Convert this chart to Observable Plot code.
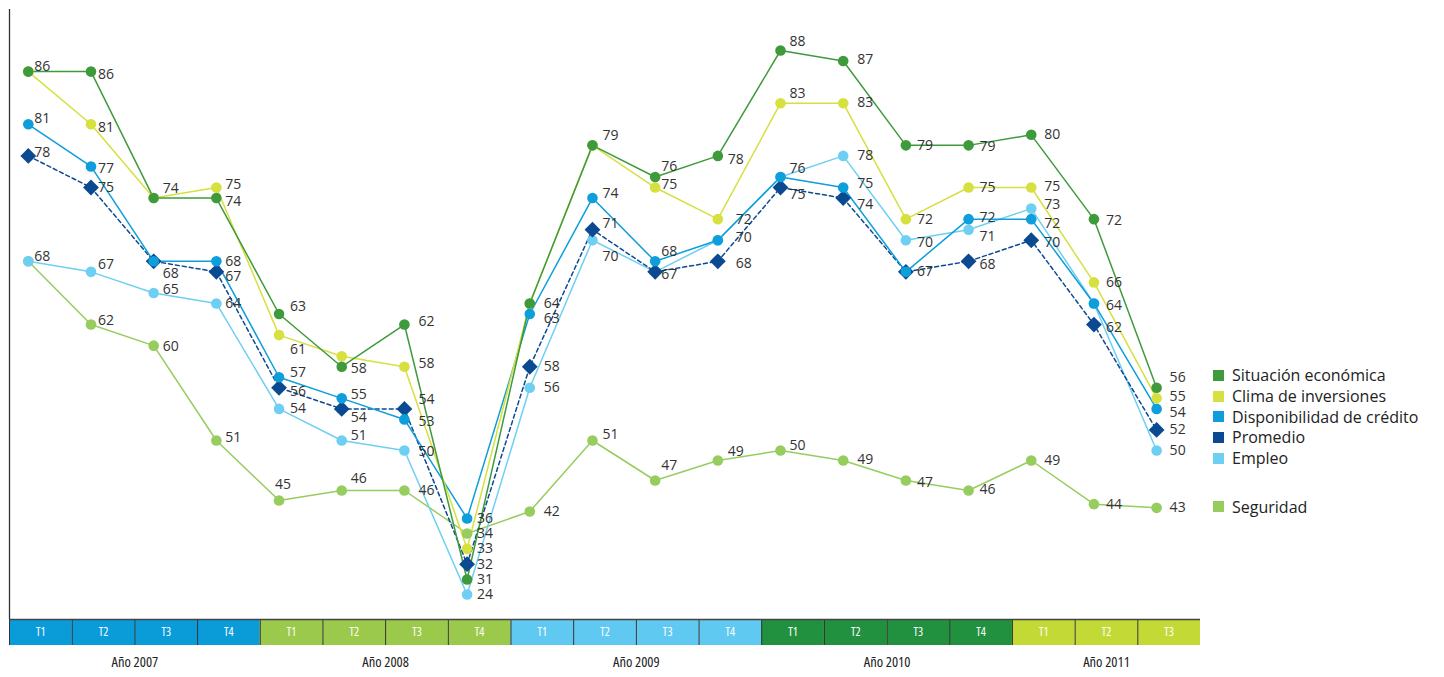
<!DOCTYPE html>
<html><head><meta charset="utf-8">
<script src="https://cdn.jsdelivr.net/npm/d3@7"></script>
<script src="https://cdn.jsdelivr.net/npm/@observablehq/plot@0.6"></script>
<style>
body{margin:0;background:#fff;}
#wrap{position:relative;width:1444px;height:677px;font-family:"Open Sans",sans-serif;}
#wrap svg{display:block;}
#band text{font-stretch:75%;}
#legend{position:absolute;left:1213px;top:365px;display:flex;flex-direction:column;}
.li{height:20.7px;display:flex;align-items:center;white-space:nowrap;font-size:16px;color:#222;}
.sw{width:11px;height:11px;margin-right:8px;flex:none;}
</style></head><body>
<div id="wrap"><div id="chart"></div><div id="band"></div><div id="legend"></div></div>
<script>
// ---- data ----
const quarters = ["T1","T2","T3","T4","T1","T2","T3","T4","T1","T2","T3","T4","T1","T2","T3","T4","T1","T2","T3"];
const years    = [2007,2007,2007,2007,2008,2008,2008,2008,2009,2009,2009,2009,2010,2010,2010,2010,2011,2011,2011];
const yearLabels = ["Año 2007","Año 2008","Año 2009","Año 2010","Año 2011"];
const seriesNames = ["Situación económica","Clima de inversiones","Disponibilidad de crédito","Promedio","Empleo","Seguridad"];
const situacion = [86,86,74,74,63,58,62,31,64,79,76,78,88,87,79,79,80,72,56];
const clima     = [86,81,74,75,61,59,58,33,64,79,75,72,83,83,72,75,75,66,55];
const credito   = [81,77,68,68,57,55,53,36,63,74,68,70,76,75,67,72,72,64,54];
const promedio  = [78,75,68,67,56,54,54,32,58,71,67,68,75,74,67,68,70,62,52];
const empleo    = [68,67,65,64,54,51,50,24,56,70,67,70,76,78,70,71,73,64,50];
const seguridad = [68,62,60,51,45,46,46,34,42,51,47,49,50,49,47,46,49,44,43];

// ---- styling / layout ----
const colors = {
  "Situación económica":"#3f9a3c",
  "Clima de inversiones":"#d6e03f",
  "Disponibilidad de crédito":"#0d9edb",
  "Promedio":"#0b4a91",
  "Empleo":"#6fcff3",
  "Seguridad":"#97cc5e"
};
const yearColors = {2007:"#0a9bd9",2008:"#9bc94c",2009:"#5fc9f1",2010:"#22913f",2011:"#c2d936"};
const keys = {"Situación económica":"S","Clima de inversiones":"C","Disponibilidad de crédito":"D","Promedio":"P","Empleo":"E","Seguridad":"G"};
// labels omitted where two series share a point
const hidden = {S:[0,2,8,9],C:[5],D:[2,11,12,17],P:[10,14],E:[0],G:[]};
const colDx = [6,7,9,9,11,9,14,10,14,10,6,10,9,14,11,11,13,12,13];
const nudges = {
  S:{1:3,3:3,4:-7,5:2,6:-3,10:-10,11:4,12:-9,13:-2,15:1,17:1,18:-10},
  C:{0:-5,1:3,2:-10,3:-3,4:14,6:-3,9:-10,10:-3,11:[0,18],12:-10,13:-1,16:-1,18:-2},
  D:{0:-6,1:2,4:-5,5:-4,6:2,8:5,9:-5,10:-10,13:-4,15:-2,16:4,18:4},
  P:{0:-3,2:12,3:5,4:4,5:9,6:-9,9:-6,11:[2,18],12:7,13:6,15:3,16:2,17:3},
  E:{1:-7,2:-3,5:-5,6:1,9:16,10:3,11:[-3,18],12:-8,14:2,15:7,16:-4,17:2},
  G:{0:-5,1:-4,2:1,3:-3,4:[-16,-4],5:-12,9:-6,10:-15,11:-9,12:-5,13:-1,14:2,15:-1}
};
const cellOffset = 0.3;

const valuesBy = {
  "Situación económica":situacion,"Clima de inversiones":clima,"Disponibilidad de crédito":credito,
  "Promedio":promedio,"Empleo":empleo,"Seguridad":seguridad
};
const drawOrder = ["Seguridad","Empleo","Promedio","Disponibilidad de crédito","Clima de inversiones","Situación económica"];

const rowsOf = name => valuesBy[name].map((v,i)=>({series:name,i,value:v}));
const allRows = drawOrder.flatMap(rowsOf);

const diamond = {draw(ctx,size){const s=Math.sqrt(size)*0.72;ctx.moveTo(0,-s);ctx.lineTo(s,0);ctx.lineTo(0,s);ctx.lineTo(-s,0);ctx.closePath();}};

// labels grouped by offset
const labelRows = [];
for (const r of allRows) {
  const k = keys[r.series];
  if (hidden[k].includes(r.i)) continue;
  const n = nudges[k][r.i];
  let dy = 0, dx = colDx[r.i];
  if (Array.isArray(n)) { dy = n[0]; dx = n[1]; } else if (n !== undefined) dy = n;
  labelRows.push({...r, dx, dy, label:String(r.value)});
}
const labelGroups = d3.groups(labelRows, d => d.dx + "," + d.dy);

const xScale = {type:"linear", domain:[-cellOffset, quarters.length - cellOffset], range:[9,1200], axis:null};
const yScale = {type:"linear", domain:[24,31,34,36,42,45,51,88], range:[594,579,533,518,511,500,440,50], axis:null};

const chart = Plot.plot({
  width:1444, height:619, marginTop:9, marginBottom:0, marginLeft:9, marginRight:244,
  x:xScale, y:yScale,
  style:{fontFamily:"Open Sans", background:"transparent", overflow:"visible"},
  marks:[
    Plot.ruleX([-cellOffset], {stroke:"#333", strokeWidth:1.3}),
    ...drawOrder.map(name => Plot.line(rowsOf(name), {x:"i", y:"value", stroke:colors[name], strokeWidth:1.5,
        strokeDasharray: name==="Promedio" ? "4,3" : null})),
    ...drawOrder.map(name => Plot.dot(rowsOf(name), {x:"i", y:"value", fill:colors[name], stroke:null,
        r: name==="Promedio" ? 6.2 : 5.3, symbol: name==="Promedio" ? diamond : "circle"})),
    ...labelGroups.map(([k, rows]) => Plot.text(rows, {x:"i", y:"value", text:"label", dx:rows[0].dx, dy:rows[0].dy,
        textAnchor:"start", fill:"#333", fontSize:14, fontFamily:"Open Sans"}))
  ]
});
document.getElementById("chart").appendChild(chart);

// ---- bottom quarter / year band ----
const cells = quarters.map((q,i)=>({i, q, year:years[i]}));
const yearRows = yearLabels.map((label, j) => {
  const yr = 2007 + j;
  const idx = cells.filter(c => c.year === yr).map(c => c.i);
  return {label, center: d3.mean(idx) + 0.5 - cellOffset};
});
const band = Plot.plot({
  width:1444, height:58, marginTop:0, marginBottom:32, marginLeft:9, marginRight:244,
  x:xScale, y:{domain:[0,1], axis:null}, color:{type:"identity"},
  style:{background:"transparent", overflow:"visible"},
  marks:[
    Plot.rect(cells, {x1: d => d.i - cellOffset, x2: d => d.i + 1 - cellOffset, fill: d => yearColors[d.year]}),
    Plot.ruleX(cells, {x: d => d.i - cellOffset, stroke:"#333", strokeWidth:1}),
    Plot.ruleY([1], {stroke:"#444", strokeWidth:1.5}),
    Plot.text(cells, {x: d => d.i + 0.5 - cellOffset, text:"q", fill:"white", fontSize:12,
        fontFamily:"Open Sans", frameAnchor:"middle"}),
    Plot.text(yearRows, {x:"center", text:"label", frameAnchor:"bottom", dy:21, fill:"#222", fontSize:14.5,
        fontFamily:"Open Sans"})
  ]
});
document.getElementById("band").appendChild(band);

// ---- legend ----
const legend = document.getElementById("legend");
seriesNames.forEach(name => {
  const row = document.createElement("div");
  row.className = "li";
  if (name === "Seguridad") row.style.marginTop = "28px";
  const sw = document.createElement("span");
  sw.className = "sw"; sw.style.background = colors[name];
  const t = document.createElement("span"); t.textContent = name;
  row.appendChild(sw); row.appendChild(t);
  legend.appendChild(row);
});
</script>
</body></html>
